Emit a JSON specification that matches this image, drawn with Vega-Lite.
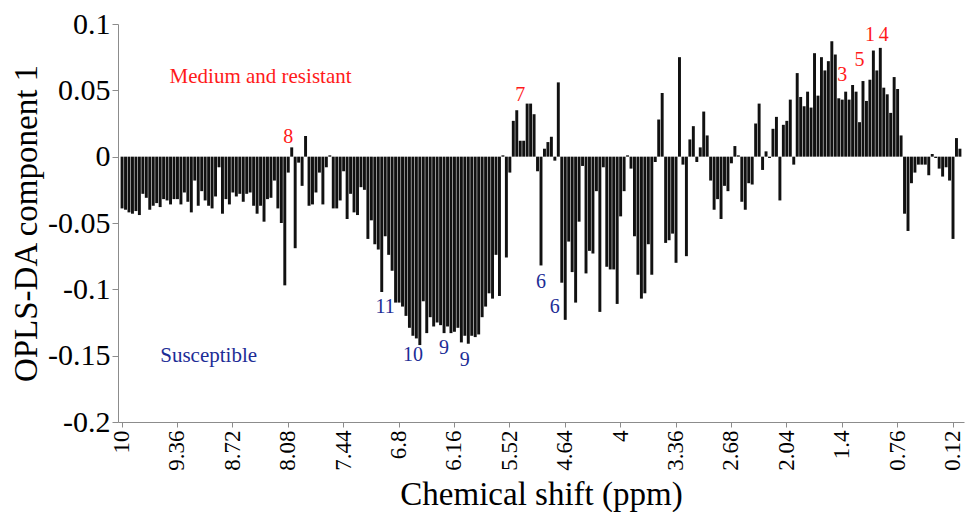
{
  "$schema": "https://vega.github.io/schema/vega-lite/v6.json",
  "width": 846,
  "height": 398,
  "autosize": "none",
  "padding": {"left": 118, "top": 24, "right": 2, "bottom": 90},
  "background": "white",
  "config": {
    "view": {"stroke": null},
    "font": "Liberation Serif"
  },
  "datasets": {
    "loadings": [
      {"ppm": "10", "v": -0.039}, {"ppm": "9.96", "v": -0.040}, {"ppm": "9.92", "v": -0.042}, {"ppm": "9.88", "v": -0.043},
      {"ppm": "9.84", "v": -0.041}, {"ppm": "9.8", "v": -0.044}, {"ppm": "9.76", "v": -0.028}, {"ppm": "9.72", "v": -0.031},
      {"ppm": "9.68", "v": -0.040}, {"ppm": "9.64", "v": -0.037}, {"ppm": "9.6", "v": -0.035}, {"ppm": "9.56", "v": -0.038},
      {"ppm": "9.52", "v": -0.032}, {"ppm": "9.48", "v": -0.033}, {"ppm": "9.44", "v": -0.036}, {"ppm": "9.4", "v": -0.032},
      {"ppm": "9.36", "v": -0.032}, {"ppm": "9.32", "v": -0.036}, {"ppm": "9.28", "v": -0.027}, {"ppm": "9.24", "v": -0.034},
      {"ppm": "9.2", "v": -0.042}, {"ppm": "9.16", "v": -0.018}, {"ppm": "9.12", "v": -0.037}, {"ppm": "9.08", "v": -0.026},
      {"ppm": "9.04", "v": -0.033}, {"ppm": "9", "v": -0.037}, {"ppm": "8.96", "v": -0.039}, {"ppm": "8.92", "v": -0.030},
      {"ppm": "8.88", "v": -0.008}, {"ppm": "8.84", "v": -0.043}, {"ppm": "8.8", "v": -0.032}, {"ppm": "8.76", "v": -0.036},
      {"ppm": "8.72", "v": -0.027}, {"ppm": "8.68", "v": -0.030}, {"ppm": "8.64", "v": -0.028}, {"ppm": "8.6", "v": -0.034},
      {"ppm": "8.56", "v": -0.028}, {"ppm": "8.52", "v": -0.027}, {"ppm": "8.48", "v": -0.037}, {"ppm": "8.44", "v": -0.043},
      {"ppm": "8.4", "v": -0.037}, {"ppm": "8.36", "v": -0.049}, {"ppm": "8.32", "v": -0.032}, {"ppm": "8.28", "v": -0.031},
      {"ppm": "8.24", "v": -0.018}, {"ppm": "8.2", "v": -0.039}, {"ppm": "8.16", "v": -0.050}, {"ppm": "8.12", "v": -0.097},
      {"ppm": "8.08", "v": -0.012}, {"ppm": "8.04", "v": 0.007}, {"ppm": "8", "v": -0.069}, {"ppm": "7.96", "v": -0.0045},
      {"ppm": "7.92", "v": -0.022}, {"ppm": "7.88", "v": 0.0156}, {"ppm": "7.84", "v": -0.037}, {"ppm": "7.8", "v": -0.036},
      {"ppm": "7.76", "v": -0.027}, {"ppm": "7.72", "v": -0.012}, {"ppm": "7.68", "v": -0.036}, {"ppm": "7.64", "v": -0.008},
      {"ppm": "7.6", "v": 0.001}, {"ppm": "7.56", "v": -0.039}, {"ppm": "7.52", "v": -0.039}, {"ppm": "7.48", "v": -0.033},
      {"ppm": "7.44", "v": -0.011}, {"ppm": "7.4", "v": -0.047}, {"ppm": "7.36", "v": -0.028}, {"ppm": "7.32", "v": -0.042},
      {"ppm": "7.28", "v": -0.044}, {"ppm": "7.24", "v": -0.023}, {"ppm": "7.2", "v": -0.025}, {"ppm": "7.16", "v": -0.062},
      {"ppm": "7.12", "v": -0.048}, {"ppm": "7.08", "v": -0.066}, {"ppm": "7.04", "v": -0.070}, {"ppm": "7", "v": -0.102},
      {"ppm": "6.96", "v": -0.060}, {"ppm": "6.92", "v": -0.074}, {"ppm": "6.88", "v": -0.086}, {"ppm": "6.84", "v": -0.110},
      {"ppm": "6.8", "v": -0.110}, {"ppm": "6.76", "v": -0.113}, {"ppm": "6.72", "v": -0.120}, {"ppm": "6.68", "v": -0.129},
      {"ppm": "6.64", "v": -0.135}, {"ppm": "6.6", "v": -0.137}, {"ppm": "6.56", "v": -0.142}, {"ppm": "6.52", "v": -0.109},
      {"ppm": "6.48", "v": -0.133}, {"ppm": "6.44", "v": -0.121}, {"ppm": "6.4", "v": -0.128}, {"ppm": "6.36", "v": -0.125},
      {"ppm": "6.32", "v": -0.127}, {"ppm": "6.28", "v": -0.133}, {"ppm": "6.24", "v": -0.128}, {"ppm": "6.2", "v": -0.133},
      {"ppm": "6.16", "v": -0.132}, {"ppm": "6.12", "v": -0.129}, {"ppm": "6.08", "v": -0.140}, {"ppm": "6.04", "v": -0.135},
      {"ppm": "6", "v": -0.141}, {"ppm": "5.96", "v": -0.135}, {"ppm": "5.92", "v": -0.136}, {"ppm": "5.88", "v": -0.134},
      {"ppm": "5.84", "v": -0.121}, {"ppm": "5.8", "v": -0.113}, {"ppm": "5.76", "v": -0.103}, {"ppm": "5.72", "v": -0.107},
      {"ppm": "5.68", "v": -0.074}, {"ppm": "5.64", "v": -0.105}, {"ppm": "5.6", "v": 0.001}, {"ppm": "5.56", "v": -0.076},
      {"ppm": "5.52", "v": -0.012}, {"ppm": "5.48", "v": 0.027}, {"ppm": "5.44", "v": 0.035}, {"ppm": "5.4", "v": 0.012},
      {"ppm": "5.36", "v": 0.012}, {"ppm": "5.32", "v": 0.040}, {"ppm": "5.28", "v": 0.040}, {"ppm": "5.24", "v": 0.032},
      {"ppm": "5.2", "v": -0.011}, {"ppm": "5.16", "v": -0.082}, {"ppm": "5.12", "v": 0.006}, {"ppm": "5.08", "v": 0.011},
      {"ppm": "5.04", "v": 0.015}, {"ppm": "5", "v": -0.003}, {"ppm": "4.72", "v": 0.056}, {"ppm": "4.68", "v": -0.095},
      {"ppm": "4.64", "v": -0.123}, {"ppm": "4.6", "v": -0.064}, {"ppm": "4.56", "v": -0.087}, {"ppm": "4.52", "v": -0.110},
      {"ppm": "4.48", "v": -0.049}, {"ppm": "4.44", "v": -0.007}, {"ppm": "4.4", "v": -0.088}, {"ppm": "4.36", "v": -0.071},
      {"ppm": "4.32", "v": -0.073}, {"ppm": "4.28", "v": -0.026}, {"ppm": "4.24", "v": -0.117}, {"ppm": "4.2", "v": -0.008},
      {"ppm": "4.16", "v": -0.083}, {"ppm": "4.12", "v": -0.085}, {"ppm": "4.08", "v": -0.085}, {"ppm": "4.04", "v": -0.111},
      {"ppm": "4", "v": -0.045}, {"ppm": "3.96", "v": -0.026}, {"ppm": "3.92", "v": 0.001}, {"ppm": "3.88", "v": -0.009},
      {"ppm": "3.84", "v": -0.060}, {"ppm": "3.8", "v": -0.089}, {"ppm": "3.76", "v": -0.107}, {"ppm": "3.72", "v": -0.103},
      {"ppm": "3.68", "v": -0.066}, {"ppm": "3.64", "v": -0.089}, {"ppm": "3.6", "v": -0.004}, {"ppm": "3.56", "v": 0.028},
      {"ppm": "3.52", "v": 0.048}, {"ppm": "3.48", "v": -0.065}, {"ppm": "3.44", "v": -0.063}, {"ppm": "3.4", "v": -0.058},
      {"ppm": "3.36", "v": -0.080}, {"ppm": "3.32", "v": 0.075}, {"ppm": "3.28", "v": -0.006}, {"ppm": "3.24", "v": -0.075},
      {"ppm": "3.2", "v": 0.013}, {"ppm": "3.16", "v": 0.023}, {"ppm": "3.12", "v": -0.004}, {"ppm": "3.08", "v": 0.007},
      {"ppm": "3.04", "v": 0.034}, {"ppm": "2.96", "v": 0.016}, {"ppm": "2.92", "v": -0.018}, {"ppm": "2.88", "v": -0.040},
      {"ppm": "2.84", "v": -0.032}, {"ppm": "2.8", "v": -0.047}, {"ppm": "2.76", "v": -0.022}, {"ppm": "2.72", "v": -0.026},
      {"ppm": "2.68", "v": -0.005}, {"ppm": "2.64", "v": 0.008}, {"ppm": "2.6", "v": 0.001}, {"ppm": "2.56", "v": -0.034},
      {"ppm": "2.52", "v": -0.040}, {"ppm": "2.48", "v": -0.020}, {"ppm": "2.44", "v": -0.021}, {"ppm": "2.4", "v": 0.025},
      {"ppm": "2.36", "v": 0.040}, {"ppm": "2.32", "v": -0.010}, {"ppm": "2.28", "v": 0.004}, {"ppm": "2.24", "v": -0.001},
      {"ppm": "2.2", "v": 0.021}, {"ppm": "2.16", "v": 0.030}, {"ppm": "2.12", "v": -0.033}, {"ppm": "2.08", "v": 0.024},
      {"ppm": "2.04", "v": 0.027}, {"ppm": "2", "v": 0.043}, {"ppm": "1.96", "v": -0.006}, {"ppm": "1.92", "v": 0.063},
      {"ppm": "1.88", "v": 0.045}, {"ppm": "1.84", "v": 0.038}, {"ppm": "1.8", "v": 0.049}, {"ppm": "1.76", "v": 0.037},
      {"ppm": "1.72", "v": 0.078}, {"ppm": "1.68", "v": 0.046}, {"ppm": "1.64", "v": 0.075}, {"ppm": "1.6", "v": 0.065},
      {"ppm": "1.56", "v": 0.072}, {"ppm": "1.52", "v": 0.087}, {"ppm": "1.48", "v": 0.077}, {"ppm": "1.44", "v": 0.044},
      {"ppm": "1.4", "v": 0.043}, {"ppm": "1.36", "v": 0.049}, {"ppm": "1.32", "v": 0.043}, {"ppm": "1.28", "v": 0.054},
      {"ppm": "1.24", "v": 0.049}, {"ppm": "1.2", "v": 0.026}, {"ppm": "1.16", "v": 0.057}, {"ppm": "1.12", "v": 0.042},
      {"ppm": "1.08", "v": 0.058}, {"ppm": "1.04", "v": 0.080}, {"ppm": "1", "v": 0.065}, {"ppm": "0.96", "v": 0.082},
      {"ppm": "0.92", "v": 0.052}, {"ppm": "0.88", "v": 0.047}, {"ppm": "0.84", "v": 0.033}, {"ppm": "0.8", "v": 0.060},
      {"ppm": "0.76", "v": 0.051}, {"ppm": "0.72", "v": 0.016}, {"ppm": "0.68", "v": -0.043}, {"ppm": "0.64", "v": -0.056},
      {"ppm": "0.6", "v": -0.020}, {"ppm": "0.56", "v": -0.012}, {"ppm": "0.52", "v": -0.006}, {"ppm": "0.48", "v": -0.006},
      {"ppm": "0.44", "v": -0.006}, {"ppm": "0.4", "v": -0.014}, {"ppm": "0.36", "v": 0.002}, {"ppm": "0.32", "v": -0.001},
      {"ppm": "0.28", "v": -0.009}, {"ppm": "0.24", "v": -0.015}, {"ppm": "0.2", "v": -0.008}, {"ppm": "0.16", "v": -0.018},
      {"ppm": "0.12", "v": -0.062}, {"ppm": "0.08", "v": 0.014}, {"ppm": "0.04", "v": 0.006}
    ],
    "peaks": [
      {"ppm": "8.08", "y": 0.0148, "label": "8", "group": "resistant"},
      {"ppm": "5.4", "y": 0.0465, "label": "7", "group": "resistant"},
      {"ppm": "1.4", "y": 0.0616, "label": "3", "group": "resistant"},
      {"ppm": "1.2", "y": 0.073, "label": "5", "group": "resistant"},
      {"ppm": "1.08", "y": 0.092, "label": "1", "group": "resistant"},
      {"ppm": "0.92", "y": 0.092, "label": "4", "group": "resistant"},
      {"ppm": "5.16", "y": -0.0945, "label": "6", "group": "susceptible"},
      {"ppm": "5", "y": -0.113, "label": "6", "group": "susceptible"},
      {"ppm": "6.96", "y": -0.113, "label": "11", "group": "susceptible"},
      {"ppm": "6.64", "y": -0.1495, "label": "10", "group": "susceptible"},
      {"ppm": "6.28", "y": -0.144, "label": "9", "group": "susceptible"},
      {"ppm": "6.04", "y": -0.153, "label": "9", "group": "susceptible"}
    ],
    "captions": [
      {"ppm": "8.4", "y": 0.060, "label": "Medium and resistant", "group": "resistant"},
      {"ppm": "9", "y": -0.150, "label": "Susceptible", "group": "susceptible"}
    ]
  },
  "layer": [
    {
      "data": {"name": "loadings"},
      "mark": {"type": "bar", "color": "#111111"},
      "encoding": {
        "x": {
          "field": "ppm",
          "type": "ordinal",
          "sort": null,
          "scale": {"type": "band", "paddingInner": 0.15, "paddingOuter": 0.75},
          "axis": {
            "title": "Chemical shift (ppm)",
            "values": ["10", "9.36", "8.72", "8.08", "7.44", "6.8", "6.16", "5.52", "4.64", "4", "3.36", "2.68", "2.04", "1.4", "0.76", "0.12"],
            "labelAngle": 270,
            "labelAlign": "right",
            "labelBaseline": "middle",
            "labelFont": "Liberation Serif",
            "labelFontSize": 23,
            "labelColor": "#000000",
            "labelPadding": 3,
            "tickSize": 5,
            "tickColor": "#8c8c8c",
            "domainColor": "#8c8c8c",
            "titleFont": "Liberation Serif",
            "titleFontSize": 33,
            "titleFontWeight": "normal",
            "titleColor": "#000000",
            "titleBaseline": "alphabetic",
            "titleY": 82,
            "grid": false
          }
        },
        "y": {
          "field": "v",
          "type": "quantitative",
          "scale": {"domain": [-0.2, 0.1], "nice": false},
          "axis": {
            "title": "OPLS-DA component 1",
            "values": [-0.2, -0.175, -0.15, -0.125, -0.1, -0.075, -0.05, -0.025, 0, 0.025, 0.05, 0.075, 0.1],
            "labelExpr": "abs(round(datum.value * 40)) % 2 == 1 ? '' : '' + datum.value",
            "tickSize": {"condition": {"test": "abs(round(datum.value * 40)) % 2 == 1", "value": 4}, "value": 6},
            "labelFont": "Liberation Serif",
            "labelFontSize": 30,
            "labelColor": "#000000",
            "labelPadding": 2,
            "tickColor": "#8c8c8c",
            "domainColor": "#8c8c8c",
            "titleFont": "Liberation Serif",
            "titleFontSize": 33,
            "titleFontWeight": "normal",
            "titleColor": "#000000",
            "titleAngle": -90,
            "titleBaseline": "alphabetic",
            "titleX": -82,
            "titleY": 199,
            "grid": false
          }
        }
      }
    },
    {
      "data": {"name": "peaks"},
      "mark": {"type": "text", "font": "Liberation Serif", "fontSize": 20, "baseline": "middle", "align": "center"},
      "encoding": {
        "x": {"field": "ppm", "type": "ordinal", "sort": null},
        "y": {"field": "y", "type": "quantitative"},
        "text": {"field": "label"},
        "color": {
          "field": "group",
          "type": "nominal",
          "scale": {"domain": ["resistant", "susceptible"], "range": ["#ff1a1a", "#1d2d96"]},
          "legend": null
        }
      }
    },
    {
      "data": {"name": "captions"},
      "mark": {"type": "text", "font": "Liberation Serif", "fontSize": 21, "baseline": "middle", "align": "center"},
      "encoding": {
        "x": {"field": "ppm", "type": "ordinal", "sort": null},
        "y": {"field": "y", "type": "quantitative"},
        "text": {"field": "label"},
        "color": {
          "field": "group",
          "type": "nominal",
          "scale": {"domain": ["resistant", "susceptible"], "range": ["#ff1a1a", "#1d2d96"]},
          "legend": null
        }
      }
    }
  ]
}
